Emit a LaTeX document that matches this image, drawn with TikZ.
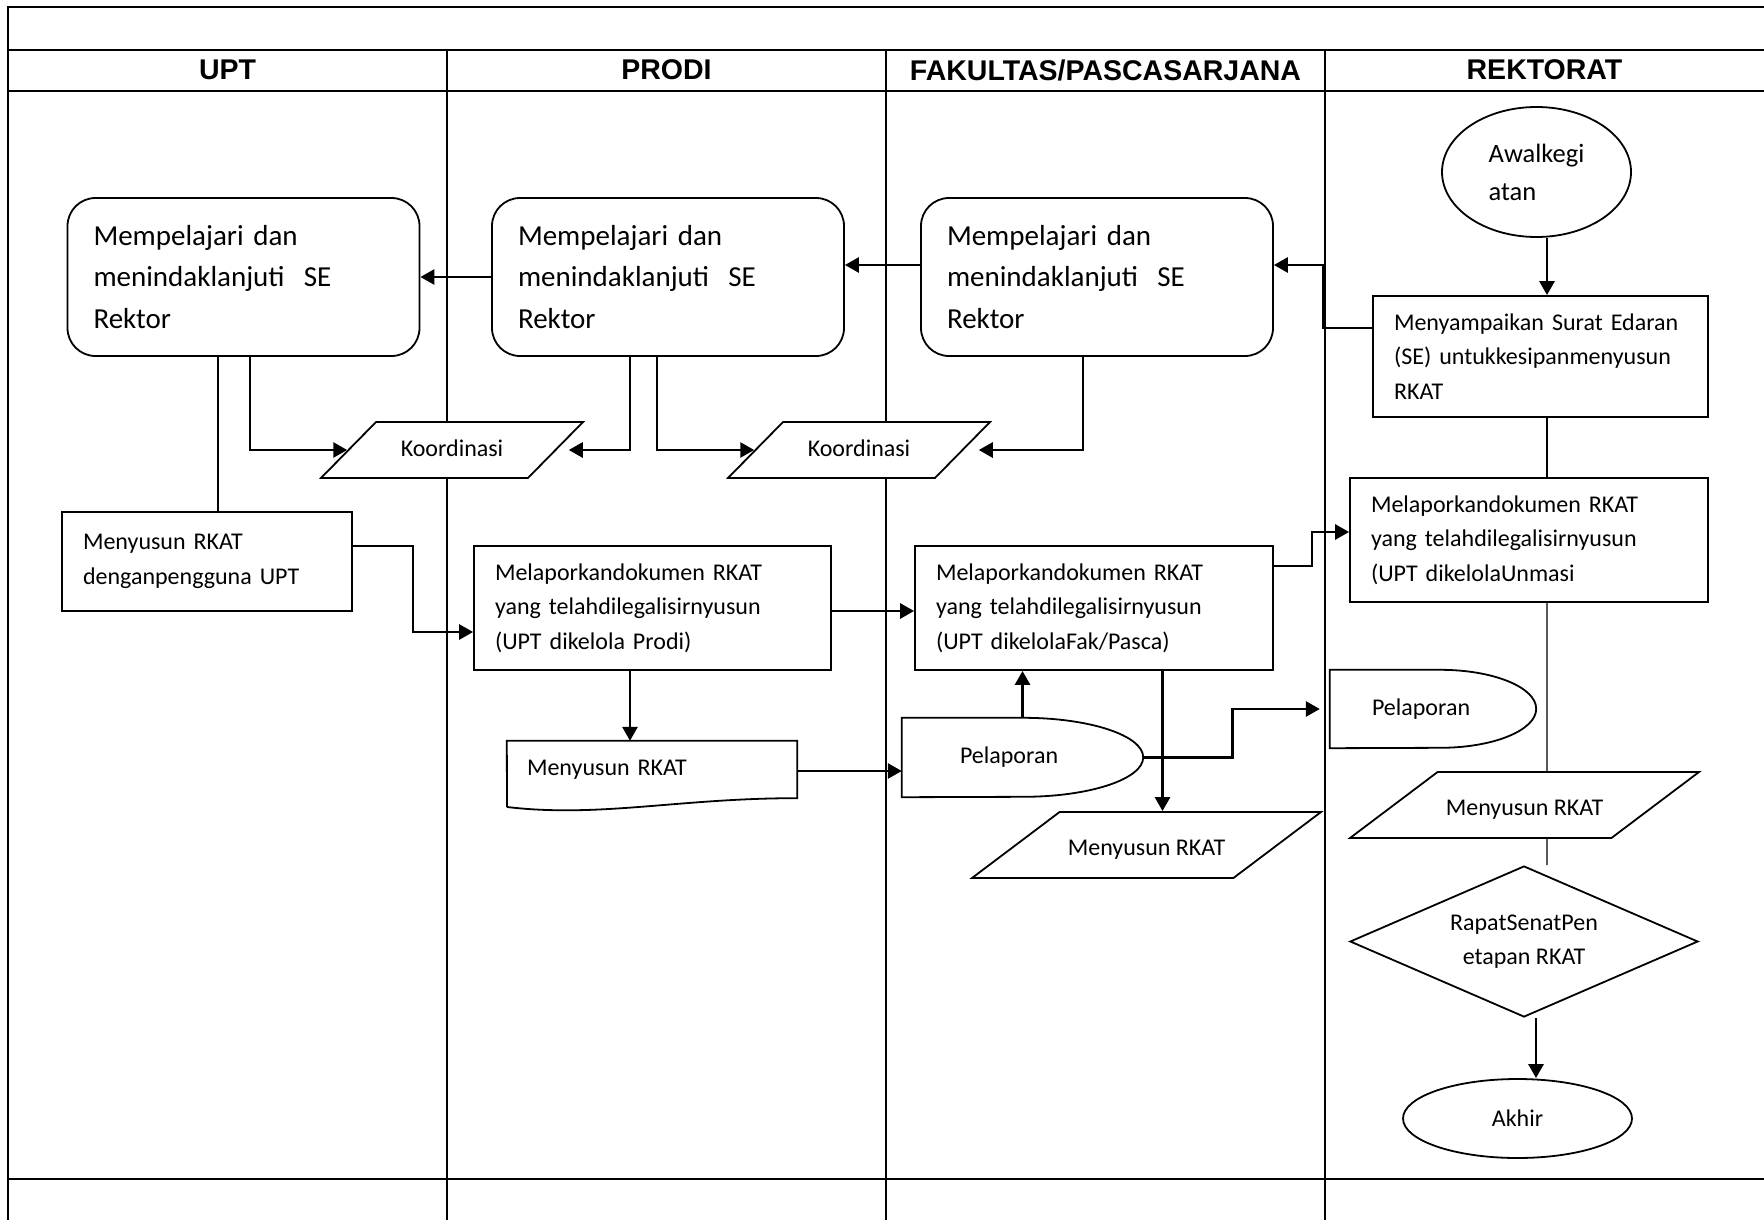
\documentclass[tikz,border=0pt]{standalone}
\usepackage{fontspec}
\setmainfont{Carlito}
\newfontfamily\arialfont{Liberation Sans}
\usetikzlibrary{shapes.geometric,arrows.meta}

\newcommand\bigtxt{\fontsize{29}{41.5}\selectfont}
\newcommand\smalltxt{\fontsize{24}{34.5}\selectfont}
\newcommand\awaltxt{\fontsize{26.5}{38}\selectfont}
\newcommand\hdrtxt{\arialfont\bfseries\fontsize{28.5}{34}\selectfont}

\tikzset{
  frame/.style={line width=2.3pt},
  lane/.style={line width=1.4pt},
  hdr/.style={font=\hdrtxt, inner sep=0pt},
  sebox/.style={draw, fill=white, line width=1.8pt, rounded corners=28pt, minimum height=158pt,
    text width=300pt, inner xsep=26pt, align=left, font=\bigtxt},
  act/.style={draw, fill=white, line width=1.8pt, rectangle, inner xsep=21pt, align=left,
    font=\smalltxt},
  io/.style={draw, fill=white, line width=1.8pt, trapezium, trapezium stretches body,
    inner ysep=0pt, font=\smalltxt},
  term/.style={draw, fill=white, line width=1.8pt, ellipse, inner sep=0pt, font=\smalltxt},
  dec/.style={draw, fill=white, line width=1.8pt, diamond, shape aspect=2.3, inner sep=0pt,
    align=center, font=\smalltxt},
  delay/.style={align=left, font=\smalltxt},
  outline/.style={line width=1.8pt},
  arr/.style={line width=2.8pt, -{Triangle[length=14pt,width=15pt]}},
  link/.style={line width=1.4pt}
}

\begin{document}
\begin{tikzpicture}[x=1pt,y=-1pt]
\useasboundingbox (0,0) rectangle (1764,1220);

% lanes
\draw[frame] (8,1220) -- (8,7) -- (1764,7);
\draw[frame] (8,50) -- (1764,50);
\draw[frame] (8,91) -- (1764,91);
\draw[frame] (8,1179) -- (1764,1179);
\foreach \x in {447,886,1325}
  \draw[lane] (\x,50) -- (\x,1220);

\node[hdr] (hu) at (227.5,70) {UPT};
\node[hdr] (hp) at (666.5,70) {PRODI};
\node[hdr] (hf) at (1105.5,70) {FAKULTAS/PASCASARJANA};
\node[hdr] (hr) at (1544.5,70) {REKTORAT};

% rektorat
\node[term, minimum width=189pt, minimum height=130pt, align=left, font=\awaltxt] (st) at (1536.5,172) {Awalkegi\\atan};
\node[act, text width=293pt, minimum height=121pt] (se) at (1540.5,356.5) {Menyampaikan Surat Edaran\\(SE) untukkesipanmenyusun\\RKAT};
\node[act, text width=316pt, minimum height=124pt] (mr) at (1529,540) {Melaporkandokumen RKAT\\yang telahdilegalisirnyusun\\(UPT dikelolaUnmasi};
\node[delay, text width=122pt, inner xsep=42pt, minimum height=78pt] (rpl) at (1433,709) {Pelaporan};
\node[io, trapezium left angle=37, trapezium right angle=143, minimum width=349pt, text height=43.7pt, text depth=22.3pt] (rm) at (1524.5,805) {Menyusun RKAT};
\node[dec, minimum width=348pt, minimum height=151pt] (dm) at (1524,941.5) {RapatSenatPen\\etapan RKAT};
\node[term, minimum width=229pt, minimum height=79pt] (ak) at (1517.5,1118.5) {Akhir};

% se rektor
\node[sebox] (ru) at (243.5,277) {Mempelajari dan\\menindaklanjuti\ \ SE\\Rektor};
\node[sebox] (rp) at (668,277) {Mempelajari dan\\menindaklanjuti\ \ SE\\Rektor};
\node[sebox] (rf) at (1097,277) {Mempelajari dan\\menindaklanjuti\ \ SE\\Rektor};

\node[io, trapezium left angle=45.5, trapezium right angle=134.5, minimum width=262pt, text height=34.7pt, text depth=21.3pt] (k1) at (452,450) {Koordinasi};
\node[io, trapezium left angle=45.5, trapezium right angle=134.5, minimum width=262pt, text height=34.7pt, text depth=21.3pt] (k2) at (859,450) {Koordinasi};

% rkat
\node[act, text width=248pt, minimum height=99pt] (mu) at (207,561.5) {Menyusun RKAT\\denganpengguna UPT};
\node[act, text width=315pt, minimum height=124pt] (mp) at (652.5,608) {Melaporkandokumen RKAT\\yang telahdilegalisirnyusun\\(UPT dikelola Prodi)};
\node[act, text width=316pt, minimum height=124pt] (mf) at (1094,608) {Melaporkandokumen RKAT\\yang telahdilegalisirnyusun\\(UPT dikelolaFak/Pasca)};
\node[delay, text width=250pt, inner xsep=20pt, minimum height=57pt] (doc) at (652,769.5) {Menyusun RKAT};
\node[delay, text width=125pt, inner xsep=58pt, minimum height=79pt] (pf) at (1022.5,757.5) {Pelaporan};
\node[io, trapezium left angle=37, trapezium right angle=143, minimum width=349pt, text height=43.7pt, text depth=22.3pt] (fm) at (1146.5,845) {Menyusun RKAT};

% outlines
\draw[outline] (507,807) -- (doc.north west) -- (doc.north east) -- (doc.south east)
  .. controls (680,798) and (600,818) .. (507,807);
\draw[outline] (pf.north west) -- ([xshift=-120pt]pf.north east)
  arc[start angle=90, end angle=-90, x radius=120pt, y radius=39.5pt] -- (pf.south west) -- cycle;
\draw[outline] (rpl.north west) -- ([xshift=-96pt]rpl.north east)
  arc[start angle=90, end angle=-90, x radius=96pt, y radius=39pt] -- (rpl.south west) -- cycle;

% connectors
\draw[arr] ([xshift=10.5pt]st.south) -- ([xshift=6.5pt]se.north);
\draw[arr] ([yshift=28.5pt]se.west) -- ++(-49,0) |- ([yshift=12pt]rf.east);
\draw[arr] ([yshift=12pt]rf.west) -- ([yshift=12pt]rp.east);
\draw[arr] (rp.west) -- (ru.east);

\draw[arr] ([xshift=6.5pt]ru.south) |- (k1);
\draw[arr, shorten >=12pt] ([xshift=-38pt]rp.south) |- (k1);
\draw[arr] ([xshift=-11pt]rp.south) |- (k2);
\draw[arr, shorten >=15pt] ([xshift=-14pt]rf.south) |- (k2);
\draw[link] ([xshift=-25.5pt]ru.south) -- ([xshift=11pt]mu.north);

\draw[arr] ([yshift=15.5pt]mu.east) -- ++(60,0) |- ([yshift=-24pt]mp.west);
\draw[arr] ([yshift=-3pt]mp.east) -- ([yshift=-3pt]mf.west);
\draw[arr] ([xshift=-22.5pt]mp.south) -- ([xshift=-22pt]doc.north);
\draw[arr] ([yshift=-1.5pt]doc.east) -- ([yshift=-13.5pt]pf.west);
\draw[arr] (pf.north) -- (pf.north |- mf.south);
\draw[arr] ([yshift=42pt]mf.east) -- ++(38,0) |- ([yshift=8pt]mr.west);
\draw[arr] ([xshift=68.5pt]mf.south) coordinate (t) -- (t |- fm.north);
\draw[arr, shorten >=10pt] (pf.east) -- ++(89,0) |- (rpl);

\draw[link] ([xshift=6.5pt]se.south) -- ([xshift=18pt]mr.north);
\draw[link] ([xshift=18pt]mr.south) -- ([xshift=22.5pt]rm.north);
\draw[link] ([xshift=22.5pt]rm.south) -- ([xshift=23pt]dm.north);
\draw[arr] ([xshift=12pt]dm.south) -- ([xshift=18.5pt]ak.north);

\end{tikzpicture}
\end{document}
